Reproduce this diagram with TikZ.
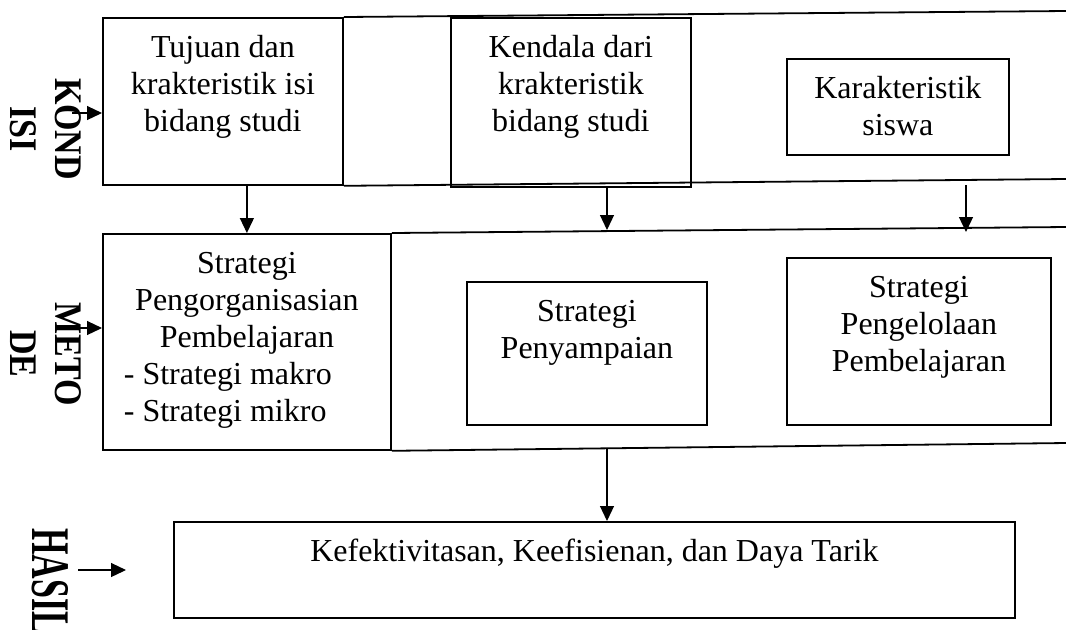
\documentclass[tikz,border=0pt]{standalone}
\usepackage{fontspec}
\setmainfont{Liberation Serif}[BoldFont={Liberation Serif Bold}]
\usepackage{graphicx}
\usetikzlibrary{arrows.meta}
\newcommand{\isikotak}[3]{\parbox[c][#2][t]{#1}{\centering\vspace{7.1pt}\strut #3}}
\newcommand{\tebal}[2]{\textbf{\scalebox{1}[#1]{#2}}}
\begin{document}
\begin{tikzpicture}  % ------ Bagan kondisi, metode dan hasil ------------------
      [x=0.5pt,y=-0.5pt,
       kotak/.style={draw,line width=0.9pt,inner sep=0pt,anchor=north west,
                     font=\fontsize{16}{18.4}\selectfont},
       garis/.style={line width=0.9pt},
       panah/.style={-{Triangle[width=7pt,length=7.5pt]},line width=0.6pt},
       judul/.style={rotate=-90,align=center,inner sep=0pt,
                     font=\bfseries\fontsize{17}{22.5}\selectfont}]
    \useasboundingbox (0,0) rectangle (1066,629);
    \node[judul] (kond) at (46,129) {\tebal{1.15}{KOND}\\\tebal{1.15}{ISI}};
    \node[judul] (meto) at (46,354) {\tebal{1.15}{METO}\\\tebal{1.15}{DE}};
    \node[judul] (hsl) at (50,581) {\tebal{1.6}{HASIL}};
    \node[kotak] (tujuan) at (102,17) {\isikotak{120pt}{83.5pt}{Tujuan dan\\ krakteristik isi\\ bidang studi}};
    \node[kotak] (kendala) at (450,17) {\isikotak{120pt}{84.5pt}{Kendala dari\\ krakteristik\\ bidang studi}};
    \node[kotak] (siswa) at (786,58) {\isikotak{111pt}{48pt}{Karakteristik\\ siswa}};
    \node[kotak] (organisasi) at (102,233) {\isikotak{144pt}{108pt}{Strategi\\ Pengorganisasian\\ Pembelajaran\par
        \raggedright\leftskip=10.5pt - Strategi makro\\ - Strategi mikro}};
    \node[kotak] (penyampaian) at (466,281) {\isikotak{120pt}{71.5pt}{Strategi\\ Penyampaian}};
    \node[kotak] (pengelolaan) at (786,257) {\isikotak{132pt}{83.5pt}{Strategi\\ Pengelolaan\\ Pembelajaran}};
    \node[kotak] (hasil) at (173,521) {\isikotak{420.5pt}{48pt}{Kefektivitasan, Keefisienan, dan Daya Tarik}};
    \draw [garis] (tujuan.north east) -- (1066,11);
    \draw [garis] (tujuan.south east) -- (1066,179);
    \draw [garis] (organisasi.north east) -- (1066,227);
    \draw [garis] (organisasi.south east) -- (1066,443);
    \coordinate (a2) at (607,230);
    \coordinate (a3) at (966,185);
    \coordinate (b3) at (966,232);
    \coordinate (a4) at (607,449);
    \coordinate (ak) at (72,113);
    \coordinate (am) at (72,328);
    \coordinate (ah) at (78,570);
    \coordinate (bh) at (126,570);
    \draw [panah] (organisasi.north |- tujuan.south) -- (organisasi.north);
    \draw [panah] (kendala.south -| a2) -- (a2);
    \draw [panah] (a3) -- (b3);
    \draw [panah] (a4) -- (a4 |- hasil.north);
    \draw [panah] (ak) -- (ak -| tujuan.west);
    \draw [panah] (am) -- (am -| organisasi.west);
    \draw [panah] (ah) -- (bh);
\end{tikzpicture}
\end{document}
